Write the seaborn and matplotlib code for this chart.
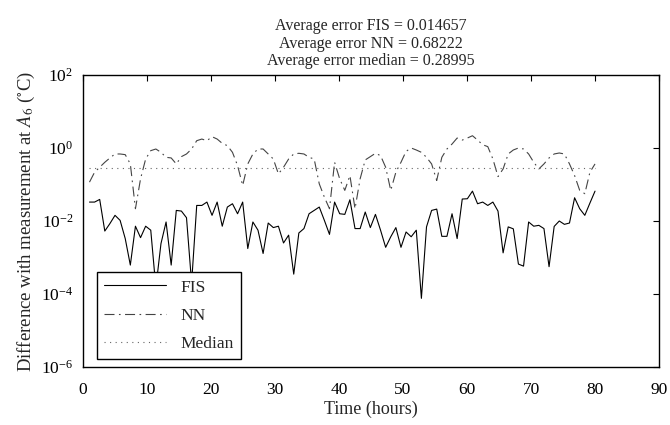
import numpy as np
import pandas as pd
import matplotlib
matplotlib.use("Agg")
import matplotlib.pyplot as plt
import seaborn as sns
from matplotlib.ticker import FixedLocator, LogFormatterMathtext, NullLocator

# ---------------- data ----------------
hours = np.linspace(1, 80, 100)

fis = [0.033, 0.033, 0.039, 0.0053, 0.0085, 0.0143, 0.0104, 0.0033, 0.00062, 0.0072,
       0.0035, 0.0072, 0.0056, 0.00015, 0.0024, 0.0094, 0.00062, 0.0195, 0.0187, 0.0123,
       0.0002, 0.0267, 0.0267, 0.033, 0.0143, 0.033, 0.0072, 0.0241, 0.0297, 0.0158,
       0.033, 0.00176, 0.0094, 0.0056, 0.00129, 0.0088, 0.0066, 0.0072, 0.0025, 0.0041,
       0.00035, 0.0047, 0.0062, 0.0158, 0.0195, 0.0241, 0.0104, 0.0043, 0.033, 0.0158,
       0.0152, 0.0382, 0.0062, 0.0062, 0.0176, 0.0066, 0.0152, 0.0056, 0.0019, 0.0037,
       0.0066, 0.0019, 0.0050, 0.0037, 0.0056, 0.000076, 0.0069, 0.0195, 0.0212, 0.0038,
       0.0038, 0.0158, 0.0033, 0.040, 0.0407, 0.0658, 0.0297, 0.033, 0.0267, 0.033,
       0.0187, 0.00134, 0.0069, 0.0061, 0.00066, 0.00058, 0.0094, 0.0072, 0.0076, 0.0062,
       0.00056, 0.0071, 0.010, 0.0081, 0.0088, 0.0433, 0.0217, 0.0143, 0.031, 0.0658]

nn = [0.116, 0.217, 0.297, 0.406, 0.534, 0.686, 0.686, 0.658, 0.366, 0.0217,
      0.143, 0.50, 0.846, 0.939, 0.762, 0.556, 0.534, 0.366, 0.58, 0.686,
      0.939, 1.585, 1.76, 1.585, 2.04, 1.76, 1.34, 1.16, 0.762, 0.33,
      0.094, 0.366, 0.686, 0.939, 0.939, 0.686, 0.50, 0.195, 0.297, 0.50,
      0.686, 0.716, 0.686, 0.556, 0.50, 0.104, 0.045, 0.0217, 0.406, 0.143,
      0.069, 0.176, 0.0217, 0.143, 0.471, 0.58, 0.716, 0.618, 0.297, 0.069,
      0.217, 0.406, 0.811, 1.0, 0.882, 0.762, 0.556, 0.366, 0.129, 0.556,
      0.939, 1.285, 1.875, 1.65, 1.875, 2.17, 1.65, 1.23, 1.09, 0.50,
      0.165, 0.267, 0.686, 0.882, 1.0, 0.939, 0.686, 0.406, 0.267, 0.366,
      0.534, 0.686, 0.73, 0.686, 0.366, 0.176, 0.069, 0.056, 0.217, 0.366]

median_value = 0.28995
median = [median_value] * len(hours)

title_lines = ["Average error FIS = 0.014657",
               "Average error NN = 0.68222",
               "Average error median = 0.28995"]
x_ticks = [0, 10, 20, 30, 40, 50, 60, 70, 80, 90]
y_ticks = [1e-6, 1e-4, 1e-2, 1e0, 1e2]

# ---------------- style ----------------
sns.set_style("white")
plt.rcParams["font.family"] = ["Liberation Serif", "DejaVu Serif"]
plt.rcParams["mathtext.fontset"] = "stix"
plt.rcParams["font.size"] = 11

fig = plt.figure(figsize=(6.7, 4.25), dpi=100)
ax = fig.add_axes([0.124, 0.1365, 0.8596, 0.687])

sns.lineplot(x=hours, y=fis, ax=ax, color="black", linewidth=0.8,
             linestyle="-", label="FIS", estimator=None)
sns.lineplot(x=hours, y=nn, ax=ax, color="#444444", linewidth=0.8,
             linestyle=(0, (9, 4, 1.5, 4)), label="NN", estimator=None)
sns.lineplot(x=hours, y=median, ax=ax, color="#666666", linewidth=0.8,
             linestyle=(0, (1, 4)), label="Median", estimator=None)

ax.set_yscale("log")
ax.set_xlim(0, 90)
ax.set_ylim(1e-6, 1e2)
ax.xaxis.set_major_locator(FixedLocator(x_ticks))
ax.yaxis.set_major_locator(FixedLocator(y_ticks))
ax.yaxis.set_minor_locator(NullLocator())
ax.yaxis.set_major_formatter(LogFormatterMathtext())
ax.tick_params(axis="both", which="both", direction="in", top=True, right=True,
               length=4, width=0.8, labelsize=12.5, colors="black")
ax.tick_params(axis="x", pad=11)
ax.tick_params(axis="y", pad=7)
for s in ax.spines.values():
    s.set_visible(True)
    s.set_color("black")
    s.set_linewidth(1.0)

ax.set_xlabel("Time (hours)", fontsize=13, labelpad=2)
ax.set_ylabel(r"Difference with measurement at $A_6$ ($^{\circ}$C)", fontsize=13.5, labelpad=3)
ax.set_title("\n".join(title_lines), fontsize=11.5, linespacing=1.12, pad=7)

leg = ax.legend(loc="lower left", bbox_to_anchor=(0.024, 0.027), borderaxespad=0,
                frameon=True, fancybox=False, framealpha=1, edgecolor="black",
                fontsize=12.5, handlelength=3.6, borderpad=0.4, labelspacing=0.7,
                handletextpad=0.8)
leg.get_frame().set_linewidth(1.0)

fig.savefig("out.png", dpi=100)
